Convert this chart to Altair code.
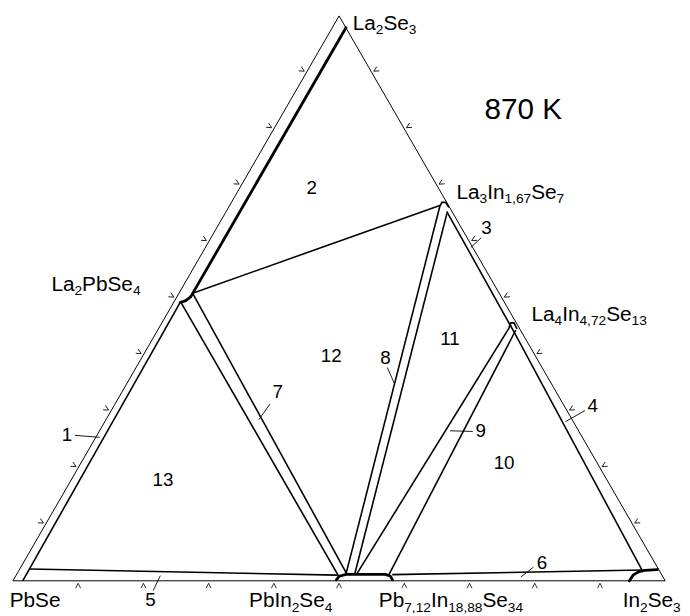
import re
import altair as alt
import numpy as np
import pandas as pd

S3 = np.sqrt(3) / 2

# ---- diagram lines: compositions (In2Se3 mol %, La2Se3 mol %) ----
outer_b = [0, 100, 0, 0]
outer_c = [0, 0, 100, 0]

left_inner_b = [1.5, 1.0]
left_inner_c = [0, 49.25]
bottom_inner_l_b = [1.5, 49.3]
bottom_inner_l_c = [2.1, 1.0]
bottom_inner_r_b = [57.6, 95.5]
bottom_inner_r_c = [1.1, 1.9]
right_inner_b = [33.8, 54.75, 95.5]
right_inner_c = [65.4, 44.1, 1.9]
tie_b = [2.1, 32.3]
tie_c = [50.9, 66.5]
l7a_b = [1.2, 49.65]
l7a_c = [49.2, 0.7]
l7b_b = [2.0, 50.6]
l7b_c = [51.0, 1.2]
l8a_b = [32.3, 50.5]
l8a_c = [66.3, 1.05]
l8b_b = [34.0, 51.8]
l8b_c = [65.1, 1.2]
l9a_b = [53.7, 52.1]
l9a_c = [45.3, 1.05]
l9b_b = [54.9, 57.1]
l9b_c = [44.4, 1.05]
arc_la3_b = [32.3, 32.26, 32.86, 33.77]
arc_la3_c = [66.3, 67.0, 67.0, 66.1]
arc_la4_b = [53.58, 53.53, 53.99, 54.97]
arc_la4_c = [44.96, 45.66, 45.66, 44.6]

# thick lines
la2se3_b = [2.12, 2.1]
la2se3_c = [50.3, 97.9]
arc_la2pb_b = [1.0, 1.7, 2.12]
arc_la2pb_c = [49.25, 49.6, 50.3]
arc_mid_b = [49.5, 49.6, 50.5, 56.55, 57.5, 58.1]
arc_mid_c = [0.17, 0.8, 1.14, 1.14, 0.8, 0.17]
arc_in_b = [94.5, 94.6, 95.1, 95.9, 97.8]
arc_in_c = [0, 1.05, 1.57, 1.84, 2.0]

lines = [
    ("outer", "thin", outer_b, outer_c),
    ("left_inner", "mid", left_inner_b, left_inner_c),
    ("bil", "mid", bottom_inner_l_b, bottom_inner_l_c),
    ("bir", "mid", bottom_inner_r_b, bottom_inner_r_c),
    ("ri", "mid", right_inner_b, right_inner_c),
    ("tie", "mid", tie_b, tie_c),
    ("7a", "mid", l7a_b, l7a_c),
    ("7b", "mid", l7b_b, l7b_c),
    ("8a", "mid", l8a_b, l8a_c),
    ("8b", "mid", l8b_b, l8b_c),
    ("9a", "mid", l9a_b, l9a_c),
    ("9b", "mid", l9b_b, l9b_c),
    ("arc3", "mid", arc_la3_b, arc_la3_c),
    ("arc4", "mid", arc_la4_b, arc_la4_c),
    ("la2se3", "thick", la2se3_b, la2se3_c),
    ("arc2", "thick", arc_la2pb_b, arc_la2pb_c),
    ("arcm", "thick", arc_mid_b, arc_mid_c),
    ("arcin", "thick", arc_in_b, arc_in_c),
]
rows = []
for name, w, bs, cs in lines:
    for i, (b, c) in enumerate(zip(bs, cs)):
        rows.append({"id": name, "w": w, "ord": i, "x": b + c / 2, "y": c * S3})
df_lines = pd.DataFrame(rows)

# ---- edge ticks every 10 mol % ----
tick_steps = [10, 20, 30, 40, 50, 60, 70, 80, 90]
trows = []
for t in tick_steps:
    trows.append({"x": t, "y": 0, "ang": 0})                         # PbSe-In2Se3
    trows.append({"x": t / 2, "y": t * S3, "ang": 120})              # PbSe-La2Se3
    trows.append({"x": (100 - t) + t / 2, "y": t * S3, "ang": 240})  # In2Se3-La2Se3
df_ticks = pd.DataFrame(trows)

# ---- leader lines (plot units) ----
leader_ids = ["1", "3", "4", "5", "6", "7", "8", "9"]
leader_x1 = [9.5, 71.8, 87.7, 21.5, 79.8, 39.4, 57.4, 67.0]
leader_y1 = [22.3, 52.6, 26.1, -1.5, 2.1, 27.1, 32.7, 23.0]
leader_x2 = [13.3, 70.2, 84.7, 22.6, 77.9, 37.7, 58.5, 70.5]
leader_y2 = [22.0, 51.1, 24.4, 0.8, 0.6, 24.7, 30.2, 22.9]
lrows = []
for i, lid in enumerate(leader_ids):
    lrows.append({"id": lid, "ord": 0, "x": leader_x1[i], "y": leader_y1[i]})
    lrows.append({"id": lid, "ord": 1, "x": leader_x2[i], "y": leader_y2[i]})
df_lead = pd.DataFrame(lrows)

# ---- region / band numbers ----
num_text = ["1", "2", "3", "4", "5", "6", "7", "8", "9", "10", "11", "12", "13"]
num_x = [8.3, 45.8, 72.6, 88.9, 21.1, 81.1, 40.6, 57.1, 71.7, 75.3, 67.0, 48.8, 23.0]
num_y = [22.3, 60.2, 54.1, 26.8, -3.0, 2.7, 28.9, 34.2, 22.9, 18.0, 37.0, 34.4, 15.5]
df_num = pd.DataFrame({"t": num_text, "x": num_x, "y": num_y})

# ---- compound labels (left, baseline) ----
comp_text = ["La_{2}Se_{3}", "La_{3}In_{1,67}Se_{7}", "La_{2}PbSe_{4}",
             "La_{4}In_{4,72}Se_{13}", "PbSe", "PbIn_{2}Se_{4}",
             "Pb_{7,12}In_{18,88}Se_{34}", "In_{2}Se_{3}"]
comp_x = [52.1, 68.0, 5.9, 79.5, -0.5, 36.2, 56.1, 93.5]
comp_y = [84.4, 58.5, 44.4, 39.8, -4.09, -4.09, -4.09, -4.09]
FS = 21
PX_PER_UNIT = 6.6
CW = {"L": 556, "a": 556, "S": 667, "e": 556, "I": 278, "n": 556, "P": 667,
      "b": 556, ",": 278, " ": 278, "K": 667}
for d in "0123456789":
    CW[d] = 556

prow = []
for txt, x0, y0 in zip(comp_text, comp_x, comp_y):
    parts = re.split(r"(_\{[^}]*\})", txt)
    off = 0.0
    for p in parts:
        if not p:
            continue
        sub = p.startswith("_{")
        s = p[2:-1] if sub else p
        fs = FS * 0.66 if sub else FS
        dy = FS * 0.2 if sub else 0
        prow.append({"t": s, "x": x0 + off / PX_PER_UNIT,
                     "y": y0 - dy / PX_PER_UNIT, "fs": fs})
        off += sum(CW.get(ch, 556) for ch in s) * fs / 1000
df_comp = pd.DataFrame(prow)

temp_text = ["870 K"]
temp_x = [72.3]
temp_y = [70.8]
df_temp = pd.DataFrame({"t": temp_text, "x": temp_x, "y": temp_y})

xs = alt.Scale(domain=[-5 / 6.6, 677 / 6.6], nice=False, zero=False)
ys = alt.Scale(domain=[-32 / 6.6, 576 / 6.6], nice=False, zero=False)
X = lambda: alt.X("x:Q", scale=xs, axis=None)
Y = lambda: alt.Y("y:Q", scale=ys, axis=None)

base = alt.Chart(df_lines).encode(x=X(), y=Y(), detail="id:N", order="ord:Q")
thin = base.transform_filter(alt.datum.w == "thin").mark_line(
    color="black", strokeWidth=1, strokeJoin="miter")
mid = base.transform_filter(alt.datum.w == "mid").mark_line(
    color="black", strokeWidth=1.6)
thick = base.transform_filter(alt.datum.w == "thick").mark_line(
    color="black", strokeWidth=2.8, strokeCap="round", strokeJoin="round")

ticks = alt.Chart(df_ticks).mark_point(
    shape="M -0.5 1.5 L 0 0.5 L 0.5 1.5", filled=False, size=100,
    color="black", strokeWidth=0.8, opacity=1
).encode(x=X(), y=Y(), angle=alt.Angle("ang:Q", scale=None))

leads = alt.Chart(df_lead).mark_line(color="black", strokeWidth=0.9).encode(
    x=X(), y=Y(), detail="id:N", order="ord:Q")

nums = alt.Chart(df_num).mark_text(
    font="Liberation Sans", fontSize=19, align="center", baseline="middle",
    color="black").encode(x=X(), y=Y(), text="t:N")

comps = alt.Chart(df_comp).mark_text(
    font="Liberation Sans", align="left", baseline="alphabetic",
    color="black").encode(x=X(), y=Y(), text="t:N",
                          size=alt.Size("fs:Q", scale=None, legend=None))

temp = alt.Chart(df_temp).mark_text(
    font="Liberation Sans", fontSize=30, align="left", baseline="alphabetic",
    color="black").encode(x=X(), y=Y(), text="t:N")

chart = alt.layer(thin, mid, thick, ticks, leads, nums, comps, temp).properties(
    width=682, height=608, padding=0, autosize="none", background="white"
).configure_view(stroke=None)

chart.save("out.html", embed_options={"renderer": "svg", "actions": False})
